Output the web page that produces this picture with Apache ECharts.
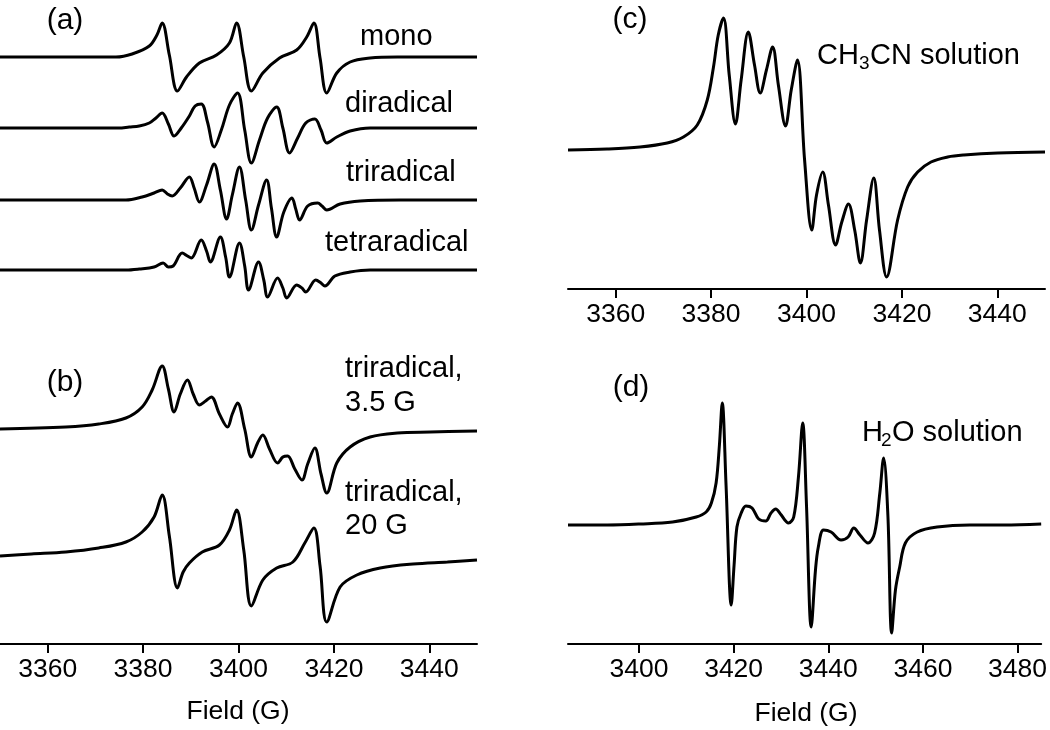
<!DOCTYPE html>
<html><head><meta charset="utf-8">
<script src="https://cdn.jsdelivr.net/npm/echarts@6/dist/echarts.min.js"></script>
<style>html,body{margin:0;padding:0;background:#fff}#c{width:1050px;height:730px}</style>
</head><body><div id="c"></div>
<script>
// ---- tick labels ----
const ticksLeft = [3360, 3380, 3400, 3420, 3440];
const ticksC = [3360, 3380, 3400, 3420, 3440];
const ticksD = [3400, 3420, 3440, 3460, 3480];

// ---- panel (a): field (G) and signal (arb. units, up positive) ----
const monoField = [3350,3374.3,3377.7,3381.3,3382.9,3384.0,3385.5,3387.2,3389.1,3391.8,3395.4,3398.1,3399.6,3401.1,3402.7,3405.1,3408.6,3412.2,3414.3,3415.8,3417.1,3418.5,3420.6,3423.4,3427.6,3433.3,3450];
const monoSignal = [0,0,3,11,22,34,2,-34,-20,-6,2,14,34,0,-34,-16,-1,7,20,34,-1,-36,-16,-5,-1,0,0];

const diField = [3350,3374.9,3377.1,3379.2,3381.3,3382.7,3384.0,3385.3,3386.5,3388.0,3389.7,3390.9,3392.2,3393.5,3394.9,3396.4,3398.1,3399.8,3401.3,3402.7,3404.4,3406.1,3408.0,3409.3,3410.7,3412.4,3414.1,3416.0,3417.3,3418.5,3420.6,3423.4,3427.6,3450];
const diSignal = [0,0,1,2,5,10,15,4,-8,0,12,22,24,6,-19,-2,23,35,-2,-35,-12,10,21,0,-25,-10,5,9,-2,-15,-9,-3,0,0];

const triField = [3350,3376.4,3379.8,3382.3,3384.0,3385.1,3386.1,3387.8,3389.7,3390.7,3391.8,3393.3,3394.9,3396.2,3397.5,3398.7,3400.2,3401.5,3402.7,3404.2,3405.9,3406.9,3408.0,3409.5,3411.2,3412.0,3412.8,3414.5,3416.6,3417.5,3418.5,3421.3,3425.5,3433.9,3450];
const triSignal = [0,0,3,7,10,6,4,12,23,12,-2,15,36,10,-19,5,33,0,-30,-5,20,-8,-37,-12,2,-9,-20,-6,-3,-6,-10,-4,-1,0,0];

const tetraField = [3350,3376.4,3379.2,3382.3,3384.2,3385.3,3386.3,3388.2,3389.3,3390.1,3392.2,3393.3,3394.1,3396.2,3397.3,3398.1,3400.2,3401.3,3402.1,3404.2,3405.3,3406.1,3408.2,3409.3,3410.1,3412.2,3413.3,3414.1,3416.2,3417.3,3418.1,3420.2,3423.4,3427.6,3450];
const tetraSignal = [0,0,1,3,7,3,4,17,14,12,30,19,8,33,13,-7,27,4,-20,8,-10,-27,-8,-18,-28,-15,-18,-22,-10,-13,-16,-6,-2,0,0];

// ---- panel (b) ----
const tri35Field = [3350,3363.8,3370.7,3376.4,3379.8,3381.9,3384.0,3385.3,3386.5,3387.8,3389.3,3390.5,3391.8,3393.1,3394.3,3396.0,3397.7,3398.7,3399.8,3401.3,3402.7,3404.0,3405.1,3406.5,3408.2,3409.3,3410.3,3411.8,3413.3,3414.5,3416.0,3417.3,3418.5,3420.6,3423.4,3427.6,3433.3,3440.2,3450];
const tri35Signal = [0,2,5,11,22,39,63,40,17,35,49,35,24,28,32,15,2,15,26,0,-28,-14,-6,-20,-34,-28,-27,-40,-51,-35,-19,-45,-64,-34,-18,-8,-4,-3,-2];

const tri20Field = [3350,3356.6,3363.8,3370.7,3376.4,3379.8,3382.3,3384.0,3385.5,3387.2,3388.4,3389.7,3392.4,3396.0,3398.1,3399.6,3401.1,3402.7,3405.1,3408.0,3411.4,3413.9,3415.8,3417.1,3418.5,3421.3,3424.8,3429.7,3436.6,3443.8,3450];
const tri20Signal = [0,2,4,8,14,24,39,61,20,-32,-16,-7,4,11,26,46,6,-50,-24,-12,-6,13,28,-10,-66,-31,-19,-12,-8,-6,-4];

// ---- panel (c) CH3CN ----
const cField = [3350,3358.2,3365.1,3370.8,3374.2,3377.1,3379.2,3380.5,3381.5,3382.6,3383.8,3385.1,3386.3,3387.8,3389.1,3390.3,3391.6,3392.9,3394.1,3395.6,3396.8,3398.1,3399.6,3401.1,3402.1,3403.4,3404.6,3406.1,3407.4,3408.8,3410.1,3411.3,3412.6,3414.1,3415.3,3416.8,3419.1,3421.2,3423.3,3426.1,3429.6,3433.0,3440.1,3450];
const cSignal = [0,1,3,7,13,25,50,83,115,132,75,26,70,118,85,57,80,103,65,24,60,90,-10,-80,-45,-22,-55,-95,-72,-54,-80,-113,-70,-28,-80,-127,-70,-37,-22,-12,-7,-5,-3,-2];

// ---- panel (d) H2O ----
const dField = [3385,3393.3,3400.2,3407.1,3412.1,3414.2,3415.3,3416.3,3417.0,3417.6,3418.4,3419.5,3420.1,3420.7,3421.6,3422.6,3423.9,3425.3,3426.8,3427.9,3428.9,3429.9,3431.6,3432.7,3433.7,3434.6,3435.4,3436.4,3437.3,3437.9,3439.0,3440.6,3442.7,3444.2,3445.4,3446.7,3448.4,3449.8,3450.9,3451.7,3452.6,3453.4,3454.2,3455.1,3456.3,3458.8,3463.0,3469.9,3477.1,3485];
const dSignal = [0,0,1,3,8,13,22,42,80,122,40,-80,-40,-2,12,19,17,6,4,12,16,11,2,8,48,102,20,-102,-45,-22,-5,-7,-15,-12,-3,-10,-18,-8,32,67,10,-108,-65,-42,-18,-7,-2,0,0,1];

// vertical offsets of each trace (stacking), in the same units
const offsets = {mono: 587, di: 516, tri: 444, tetra: 374, tri35: 215, tri20: 88, c: 139, d: 119};

const FONT = 'Liberation Sans, Arial, sans-serif';
function zip(f, s, off) { return f.map((x, i) => [x, s[i] + off]); }
function trace(name, f, s, off, axis) {
  return { name, type: 'line', xAxisIndex: axis, yAxisIndex: axis, data: zip(f, s, off),
    showSymbol: false, smooth: 0.35, lineStyle: { color: '#000', width: 3 }, silent: true };
}
function xAx(grid, min, max, ticks) {
  return { type: 'value', gridIndex: grid, min, max,
    axisLine: { show: true, lineStyle: { color: '#000', width: 2 } },
    axisTick: { show: true, length: 9, inside: false, customValues: ticks, lineStyle: { color: '#000', width: 2 } },
    axisLabel: { customValues: ticks, color: '#000', fontSize: 26.5, fontFamily: FONT, margin: 12,
      formatter: (v) => String(v) },
    splitLine: { show: false } };
}
function yAx(grid, max) {
  return { type: 'value', gridIndex: grid, min: 0, max, show: false, splitLine: { show: false } };
}
function txt(x, y, s, size, align) {
  return { type: 'text', x, y, style: { text: s, fill: '#000', font: size + 'px ' + FONT,
    align: align || 'left', verticalAlign: 'middle' } };
}
const chart = echarts.init(document.getElementById('c'), null, { renderer: 'canvas' });
chart.setOption({
  animation: false,
  backgroundColor: '#fff',
  grid: [
    { left: 0, right: 573, top: 0, bottom: 86 },
    { left: 568, right: 5, top: 0, bottom: 441 },
    { left: 568, right: 5, top: 360, bottom: 86 }
  ],
  xAxis: [xAx(0, 3350, 3450, ticksLeft), xAx(1, 3350, 3450, ticksC), xAx(2, 3385, 3485, ticksD)],
  yAxis: [yAx(0, 644), yAx(1, 289), yAx(2, 284)],
  series: [
    trace('mono', monoField, monoSignal, offsets.mono, 0),
    trace('diradical', diField, diSignal, offsets.di, 0),
    trace('triradical', triField, triSignal, offsets.tri, 0),
    trace('tetraradical', tetraField, tetraSignal, offsets.tetra, 0),
    trace('triradical, 3.5 G', tri35Field, tri35Signal, offsets.tri35, 0),
    trace('triradical, 20 G', tri20Field, tri20Signal, offsets.tri20, 0),
    trace('CH3CN solution', cField, cSignal, offsets.c, 1),
    trace('H2O solution', dField, dSignal, offsets.d, 2)
  ],
  graphic: [
    txt(65, 21, '(a)', 30, 'center'),
    txt(65, 383, '(b)', 30, 'center'),
    txt(630, 20, '(c)', 30, 'center'),
    txt(631, 388, '(d)', 30, 'center'),
    txt(360, 37, 'mono', 29),
    txt(345, 104, 'diradical', 29),
    txt(346, 173, 'triradical', 29),
    txt(325, 243, 'tetraradical', 29),
    txt(345, 369, 'triradical,', 29),
    txt(345, 403, '3.5 G', 29),
    txt(345, 493, 'triradical,', 29),
    txt(345, 526, '20 G', 29),
    txt(817, 56, 'CH', 29),
    txt(859, 64, '3', 19),
    txt(870, 56, 'CN solution', 29),
    txt(862, 433, 'H', 29),
    txt(881, 441, '2', 19),
    txt(892, 433, 'O solution', 29),
    txt(238, 712, 'Field (G)', 26.5, 'center'),
    txt(806, 714, 'Field (G)', 26.5, 'center')
  ]
});
</script></body></html>
